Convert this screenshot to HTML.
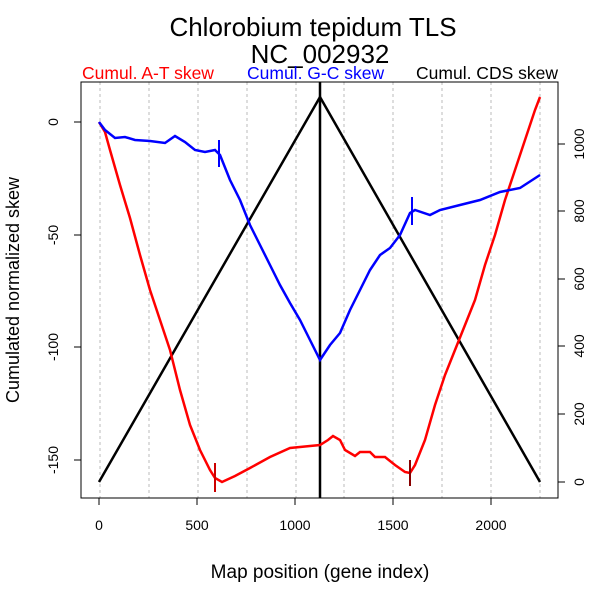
<!DOCTYPE html>
<html><head><meta charset="utf-8"><style>body{margin:0;background:#fff}svg{display:block}text{font-family:"Liberation Sans",sans-serif}</style></head><body>
<svg width="600" height="600" viewBox="0 0 600 600">
<rect width="600" height="600" fill="#fff"/>
<g stroke="#bbb" stroke-dasharray="3,3" stroke-width="1">
<line x1="100" y1="82" x2="100" y2="498"/><line x1="149" y1="82" x2="149" y2="498"/><line x1="198" y1="82" x2="198" y2="498"/><line x1="247" y1="82" x2="247" y2="498"/><line x1="296" y1="82" x2="296" y2="498"/><line x1="344" y1="82" x2="344" y2="498"/><line x1="393" y1="82" x2="393" y2="498"/><line x1="442" y1="82" x2="442" y2="498"/><line x1="491" y1="82" x2="491" y2="498"/><line x1="540" y1="82" x2="540" y2="498"/>
</g>
<rect x="81" y="82" width="477" height="416" fill="none" stroke="#000"/>
<polyline fill="none" stroke="#000" stroke-width="2.5" points="99,482 320,97 540,482"/>
<line x1="320" y1="82" x2="320" y2="498" stroke="#000" stroke-width="2.5"/>
<polyline fill="none" stroke="#f00" stroke-width="2.5" points="99,122 105,132 110,150 120,185 130,218 140,255 150,290 160,320 170,350 180,390 190,425 200,450 210,470 215,478 222,482 235,476 250,468 270,457 290,448 310,446 320,445 328,440 333,436 340,440 345,450 355,456 360,452 370,452 375,457 385,457 395,465 405,472 410,473 415,465 425,440 435,405 445,375 455,350 465,325 475,300 485,265 495,235 505,200 515,170 525,140 535,110 540,97"/>
<line x1="215" y1="463" x2="215" y2="492" stroke="#c00" stroke-width="2"/>
<line x1="410" y1="460" x2="410" y2="486" stroke="#800" stroke-width="2"/>
<polyline fill="none" stroke="#00f" stroke-width="2.5" points="99,122 105,130 115,138 125,137 135,140 150,141 165,143 175,136 185,142 195,150 205,152 215,150 220,155 230,180 240,200 250,225 260,245 270,265 280,285 290,303 300,320 310,340 320,360 330,345 340,333 350,310 360,290 370,270 380,255 390,248 400,235 410,213 415,210 430,215 440,210 460,205 480,200 500,192 520,188 540,175"/>
<line x1="219" y1="140" x2="219" y2="167" stroke="#00f" stroke-width="2"/>
<line x1="412" y1="197" x2="412" y2="225" stroke="#00f" stroke-width="2"/>
<g stroke="#000"><line x1="99" y1="498" x2="99" y2="505"/><line x1="197" y1="498" x2="197" y2="505"/><line x1="295" y1="498" x2="295" y2="505"/><line x1="393" y1="498" x2="393" y2="505"/><line x1="491" y1="498" x2="491" y2="505"/>
<line x1="81" y1="122" x2="74" y2="122"/><line x1="81" y1="235" x2="74" y2="235"/><line x1="81" y1="347" x2="74" y2="347"/><line x1="81" y1="460" x2="74" y2="460"/>
<line x1="558" y1="482" x2="565" y2="482"/><line x1="558" y1="414" x2="565" y2="414"/><line x1="558" y1="346" x2="565" y2="346"/><line x1="558" y1="279" x2="565" y2="279"/><line x1="558" y1="211" x2="565" y2="211"/><line x1="558" y1="144" x2="565" y2="144"/></g>
<g font-size="14" text-anchor="middle" fill="#000">
<text x="99" y="530">0</text><text x="197" y="530">500</text><text x="295" y="530">1000</text><text x="393" y="530">1500</text><text x="491" y="530">2000</text>
<text transform="translate(58,122) rotate(-90)">0</text><text transform="translate(58,235) rotate(-90)">-50</text><text transform="translate(58,347) rotate(-90)">-100</text><text transform="translate(58,460) rotate(-90)">-150</text>
<text transform="translate(584,482) rotate(-90)">0</text><text transform="translate(584,414) rotate(-90)">200</text><text transform="translate(584,346) rotate(-90)">400</text><text transform="translate(584,279) rotate(-90)">600</text><text transform="translate(584,211) rotate(-90)">800</text><text transform="translate(584,144) rotate(-90)">1000</text>
</g>
<text x="320" y="578" font-size="19" text-anchor="middle">Map position (gene index)</text>
<text transform="translate(19,290) rotate(-90)" font-size="18" text-anchor="middle">Cumulated normalized skew</text>
<text x="313" y="36" font-size="26" text-anchor="middle">Chlorobium tepidum TLS</text>
<text x="320" y="63" font-size="26" text-anchor="middle">NC_002932</text>
<text x="82" y="79" font-size="17.5" fill="#f00">Cumul. A-T skew</text>
<text x="247" y="79" font-size="17.5" fill="#00f">Cumul. G-C skew</text>
<text x="558" y="79" font-size="17.5" fill="#000" text-anchor="end">Cumul. CDS skew</text>
</svg>
</body></html>
